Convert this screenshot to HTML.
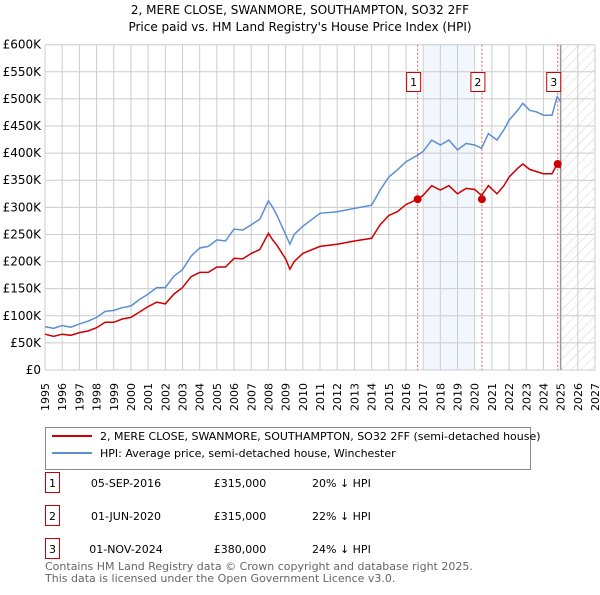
<!DOCTYPE html>
<html><head><meta charset="utf-8"><style>
body{margin:0;background:#fff;font-family:"Liberation Sans","DejaVu Sans",sans-serif;}
svg text{font-family:"DejaVu Sans","Liberation Sans",sans-serif;}
</style></head><body>
<svg width="600" height="590" viewBox="0 0 600 590">
<defs><pattern id="hatch" width="7" height="7" patternUnits="userSpaceOnUse" patternTransform="rotate(45)"><line x1="0" y1="0" x2="0" y2="7" stroke="#d4d4d4" stroke-width="1"/></pattern></defs>
<text x="300" y="14" text-anchor="middle" font-size="12">2, MERE CLOSE, SWANMORE, SOUTHAMPTON, SO32 2FF</text>
<text x="300" y="31" text-anchor="middle" font-size="12">Price paid vs. HM Land Registry's House Price Index (HPI)</text>
<g id="plot"></g>
<g>
<rect x="45.5" y="427.5" width="485" height="42" fill="#fff" stroke="#888"/>
<line x1="52" y1="436" x2="92" y2="436" stroke="#cc0000" stroke-width="2"/>
<text x="100" y="440" font-size="11">2, MERE CLOSE, SWANMORE, SOUTHAMPTON, SO32 2FF (semi-detached house)</text>
<line x1="52" y1="453" x2="92" y2="453" stroke="#5b8fd4" stroke-width="2"/>
<text x="100" y="457" font-size="11">HPI: Average price, semi-detached house, Winchester</text>
</g>
<g id="table" font-size="11"></g>
<text x="45" y="570" font-size="11" fill="#666">Contains HM Land Registry data © Crown copyright and database right 2025.</text>
<text x="45" y="582" font-size="11" fill="#666">This data is licensed under the Open Government Licence v3.0.</text>
</svg>
<script>
const yTicks=[0,50,100,150,200,250,300,350,400,450,500,550,600];
const yTickLabels=["£0","£50K","£100K","£150K","£200K","£250K","£300K","£350K","£400K","£450K","£500K","£550K","£600K"];
const years=[1995,1996,1997,1998,1999,2000,2001,2002,2003,2004,2005,2006,2007,2008,2009,2010,2011,2012,2013,2014,2015,2016,2017,2018,2019,2020,2021,2022,2023,2024,2025,2026,2027];
const hpiT=[1995,1995.5,1996,1996.5,1997,1997.5,1998,1998.5,1999,1999.5,2000,2000.5,2001,2001.5,2002,2002.5,2003,2003.5,2004,2004.5,2005,2005.5,2006,2006.5,2007,2007.5,2008,2008.25,2008.5,2009,2009.25,2009.5,2010,2011,2012,2013,2014,2014.5,2015,2015.5,2016,2016.67,2017,2017.5,2018,2018.5,2019,2019.5,2020,2020.4,2020.8,2021.3,2021.7,2022,2022.5,2022.8,2023.2,2023.6,2024,2024.5,2024.8,2025];
const hpiV=[80,77,82,79,85,90,97,108,110,115,118,130,140,152,152,173,185,210,225,228,240,238,260,258,268,278,312,300,285,250,232,250,265,289,292,298,304,332,356,369,384,396,403,424,415,424,406,418,415,409,436,424,443,461,479,492,479,476,470,470,504,495];
const ppV=[66,62,66,64,69,72,78,88,88,94,97,107,117,125,122,140,152,172,180,180,190,190,206,205,215,222,252,240,230,205,186,200,215,228,232,238,243,268,285,292,305,315,322,340,332,340,325,335,333,322,340,325,340,356,372,380,370,366,362,362,380,372];
const saleT=[2016.68,2020.42,2024.83];
const saleV=[315,315,380];
const saleLabels=["1","2","3"];
const saleDates=["05-SEP-2016","01-JUN-2020","01-NOV-2024"];
const salePrices=["£315,000","£315,000","£380,000"];
const saleDiffs=["20% ↓ HPI","22% ↓ HPI","24% ↓ HPI"];
const shadeStart=2017, shadeEnd=2020, futureStart=2025;

const NS="http://www.w3.org/2000/svg";
const X0=45,X1=595,Y0=370,Y1=44.7;
const x=t=>X0+(t-1995)/(2027-1995)*(X1-X0);
const y=v=>Y0-v/600*(Y0-Y1);
function mk(tag,attrs,parent){const e=document.createElementNS(NS,tag);for(const k in attrs)e.setAttribute(k,attrs[k]);parent.appendChild(e);return e;}
const g=document.getElementById('plot');
let r=mk('rect',{x:x(shadeStart),y:Y1,width:x(shadeEnd)-x(shadeStart),height:Y0-Y1,fill:'#f2f6fd'},g);


r=mk('rect',{x:x(futureStart),y:Y1,width:X1-x(futureStart),height:Y0-Y1,fill:'url(#hatch)'},g);


years.forEach(t=>{const l=mk('line',{x1:x(t),x2:x(t),y1:Y1,y2:Y0,stroke:'#ccc','stroke-width':1},g);


const tx=mk('text',{x:0,y:0,'font-size':11,'text-anchor':'end',transform:`translate(${x(t)+4},383) rotate(-90)`},g);
tx.textContent=t;

});
yTicks.forEach((v,i)=>{const l=mk('line',{x1:X0,x2:X1,y1:y(v),y2:y(v),stroke:'#ccc','stroke-width':1},g);


const tx=mk('text',{x:41,y:y(v)+4,'font-size':12,'text-anchor':'end'},g);
tx.textContent=yTickLabels[i];

});
r=mk('line',{x1:x(futureStart),x2:x(futureStart),y1:Y1,y2:Y0,stroke:'#999','stroke-width':1.5},g);


saleT.forEach((t,i)=>{const l=mk('line',{x1:x(t),x2:x(t),y1:Y1,y2:Y0,stroke:'#e06060','stroke-width':1,'stroke-dasharray':'2,2'},g);

});
const pts=(V)=>hpiT.map((t,i)=>x(t).toFixed(1)+','+y(V[i]).toFixed(1)).join(' ');
let p=mk('polyline',{points:pts(hpiV),fill:'none',stroke:'#5b8fd4','stroke-width':1.5},g);


p=mk('polyline',{points:pts(ppV),fill:'none',stroke:'#cc0000','stroke-width':1.5},g);


saleT.forEach((t,i)=>{const c=mk('circle',{cx:x(t),cy:y(saleV[i]),r:4,fill:'#cc0000'},g);


const b=mk('rect',{x:x(t)-11,y:72.5,width:14,height:19,fill:'#fff',stroke:'#cc0000'},g);


const tx=mk('text',{x:x(t)-4,y:86,'font-size':11,'text-anchor':'middle'},g);
tx.textContent=saleLabels[i];

});
const tb=document.getElementById('table');
saleT.forEach((t,i)=>{const cy=483+i*33;
const b=mk('rect',{x:45.5,y:cy-10.5,width:14,height:20,fill:'#fff',stroke:'#cc0000'},tb);


const cells=[[52.5,saleLabels[i],'middle'],[126,saleDates[i],'middle'],[240,salePrices[i],'middle'],[312,saleDiffs[i],'start']];
cells.forEach(cl=>{const tx=mk('text',{x:cl[0],y:cy+4,'text-anchor':cl[2]},tb);
tx.textContent=cl[1];

});});
</script>
</body></html>
